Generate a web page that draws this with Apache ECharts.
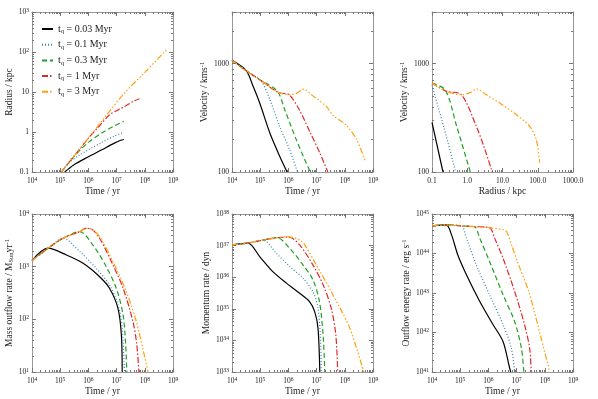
<!DOCTYPE html>
<html>
<head>
<meta charset="utf-8">
<script src="https://cdn.jsdelivr.net/npm/echarts@6/dist/echarts.min.js"></script>
<style>
html, body { margin: 0; padding: 0; background: #fff; }
#chart { width: 598px; height: 399px; }
</style>
</head>
<body>
<div id="chart"></div>
<script>
var tqNames = ['t_q = 0.03 Myr', 't_q = 0.1 Myr', 't_q = 0.3 Myr', 't_q = 1 Myr', 't_q = 3 Myr'];

// [time / yr, radius / kpc]
var radiusVsTime = [
  [[1.45e5, 0.1], [3e5, 0.15], [1e6, 0.24], [3e6, 0.36], [8e6, 0.52], [1.4e7, 0.62], [1.8e7, 0.65]],
  [[1.1e5, 0.1], [2e5, 0.17], [5e5, 0.27], [1e6, 0.36], [3e6, 0.55], [8e6, 0.78], [1.8e7, 0.98]],
  [[1.1e5, 0.1], [3e5, 0.24], [6e5, 0.4], [1e6, 0.55], [3e6, 0.95], [8e6, 1.4], [1.8e7, 1.85]],
  [[1.1e5, 0.1], [1e6, 0.7], [2.2e6, 1.3], [5.6e6, 2.7], [1e7, 3.4], [2.2e7, 4.6], [4e7, 5.9], [6.5e7, 6.8]],
  [[1.1e5, 0.1], [1e6, 0.7], [1.7e7, 8.6], [1e8, 31], [6.3e8, 119]]
];

// [time / yr, velocity / km s^-1]
var velocityVsTime = [
  [[1e4, 1073], [3.2e4, 862], [5.6e4, 618], [9.6e4, 433], [2.2e5, 229], [4.9e5, 140], [9e5, 100]],
  [[1e4, 1073], [3.2e4, 862], [1.1e5, 687], [2.2e5, 466], [4.9e5, 264], [1.1e6, 161], [2.1e6, 100]],
  [[1e4, 1073], [3.2e4, 862], [9.6e4, 711], [4e5, 560], [7.4e5, 376], [1.9e6, 199], [3.8e6, 130], [6e6, 100]],
  [[1e4, 1073], [3.2e4, 862], [9.6e4, 711], [2.8e5, 583], [5e5, 536], [1.05e6, 518], [2.5e6, 370], [6e6, 230], [1.3e7, 150], [2.5e7, 100]],
  [[1e4, 1073], [3.2e4, 862], [9.6e4, 711], [2.8e5, 583], [5e5, 536], [1.2e6, 518], [2e6, 535], [3.5e6, 583],
   [6.5e6, 518], [2.2e7, 403], [4e7, 330], [1.1e8, 272], [2.6e8, 200], [5.4e8, 125]]
];

// [radius / kpc, velocity / km s^-1]
var velocityVsRadius = [
  [[0.1, 287], [0.205, 100]],
  [[0.1, 630], [0.22, 255], [0.47, 100]],
  [[0.1, 663], [0.24, 571], [0.5, 265], [1.22, 100]],
  [[0.1, 663], [0.255, 556], [0.68, 518], [1.8, 265], [3.2, 160], [5.1, 100]],
  [[0.1, 663], [0.255, 556], [0.68, 518], [1.2, 540], [1.9, 583], [3.2, 525], [8.3, 433], [24.6, 338], [59, 264], [91, 199], [113, 122]]
];

// [time / yr, mass outflow rate / Msun yr^-1]
var massRate = [
  [[1e4, 1306], [3.7e4, 2240], [1.66e5, 1670], [6.5e5, 1160], [2.5e6, 645], [5.6e6, 390], [1.12e7, 162], [1.48e7, 50], [1.58e7, 10]],
  [[1e4, 1306], [3.7e4, 2240], [1.26e5, 3460], [4.9e5, 1950], [1.9e6, 930], [5.6e6, 450], [1.12e7, 190], [1.58e7, 68], [1.9e7, 10]],
  [[1e4, 1306], [3.7e4, 2240], [1.26e5, 3460], [4.9e5, 4630], [1.45e6, 2570], [4.3e6, 1000], [9.8e6, 385], [1.7e7, 120], [2.1e7, 33], [2.3e7, 10]],
  [[1e4, 1306], [3.7e4, 2240], [1.26e5, 3460], [4.9e5, 4630], [8e5, 5350], [1.26e6, 5200], [2.5e6, 3460], [7.4e6, 1080], [1.7e7, 390], [3.8e7, 91], [5.2e7, 33], [6.2e7, 10]],
  [[1e4, 1306], [3.7e4, 2240], [1.26e5, 3460], [4.9e5, 4630], [8e5, 5350], [1.26e6, 5200], [2.5e6, 3720], [7.4e6, 1250], [2.2e7, 337], [5e7, 91], [1.3e8, 10]]
];

// [time / yr, momentum rate / dyn]
var momentumRate = [
  [[1e4, 1.05e37], [3.7e4, 1.2e37], [9.6e4, 4.5e36], [2.8e5, 1.5e36], [8.5e5, 6.5e35], [2.5e6, 3.1e35], [5.6e6, 1.7e35], [8.5e6, 8.3e34], [1.12e7, 2.45e34], [1.3e7, 1e33]],
  [[1e4, 1.05e37], [3.7e4, 1.2e37], [1.26e5, 1.5e37], [3.7e5, 5.75e36], [1.1e6, 2.2e36], [3.3e6, 9.3e35], [7.4e6, 3.5e35], [1.12e7, 1.05e35], [1.35e7, 1.5e34], [1.48e7, 1e33]],
  [[1e4, 1.05e37], [3.7e4, 1.2e37], [1.26e5, 1.5e37], [4e5, 1.78e37], [1.1e6, 8.3e36], [3.3e6, 2.45e36], [7.4e6, 8.3e35], [1.26e7, 1.7e35], [1.7e7, 1.5e34], [1.95e7, 1e33]],
  [[1e4, 1.05e37], [3.7e4, 1.2e37], [1.26e5, 1.5e37], [4e5, 1.78e37], [1.05e6, 1.85e37], [2.5e6, 1.05e37], [7.4e6, 2.45e36], [1.7e7, 5.75e35], [3.3e7, 1.05e35], [4.8e7, 1.5e34], [5.6e7, 1e33]],
  [[1e4, 1.05e37], [3.7e4, 1.2e37], [1.26e5, 1.5e37], [4e5, 1.78e37], [1e6, 1.9e37], [2.5e6, 1.5e37], [3.8e6, 1.05e37], [9.8e6, 2.45e36], [3.8e7, 2.75e35], [1.5e8, 2.45e34], [4.7e8, 1e33]]
];

// [time / yr, outflow energy rate / erg s^-1]
var energyRate = [
  [[1e4, 5e44], [3.2e4, 5.3e44], [4.9e4, 3e44], [8.3e4, 9e43], [1.66e5, 2.9e43], [4.9e5, 6.2e42], [1.45e6, 1.6e42], [3.3e6, 5.9e41], [5.6e6, 1.3e41], [6.2e6, 1e41]],
  [[1e4, 5e44], [3.2e4, 5.3e44], [1.1e5, 5e44], [1.66e5, 2.45e44], [3.7e5, 5.2e43], [1.1e6, 9e42], [3.3e6, 1.6e42], [6.5e6, 4e41], [8.5e6, 1e41]],
  [[1e4, 5e44], [3.2e4, 5.3e44], [1.1e5, 5e44], [3.2e5, 4.8e44], [4.9e5, 2.45e44], [1.1e6, 6.3e43], [3.3e6, 9e42], [8.5e6, 1.9e42], [1.48e7, 4e41], [1.8e7, 1e41]],
  [[1e4, 5e44], [3.2e4, 5.3e44], [1.1e5, 5e44], [3.2e5, 4.8e44], [1.1e6, 4.5e44], [1.66e6, 2.45e44], [3.3e6, 7.6e43], [8.5e6, 1.1e43], [1.9e7, 1.6e42], [2.9e7, 4e41], [3.3e7, 1e41]],
  [[1e4, 5e44], [3.2e4, 5.3e44], [1.1e5, 5e44], [3.2e5, 4.8e44], [1.1e6, 4.5e44], [3.3e6, 4e44], [4.5e6, 3.5e44], [6.5e6, 1.7e44], [1.2e7, 5e43], [2.8e7, 1e43], [6.6e7, 1e42], [1.5e8, 1e41]]
];

var colors = ['#000000', '#3f7fae', '#22a022', '#e02a2a', '#ffa010'];
var dashes = ['solid', [1, 2], [5, 3], [6, 2, 1.5, 2], [6, 2, 1.5, 2, 1.5, 2, 1.5, 2]];

var FONT = 'Liberation Serif';
var GRAY = '#999';

function isPow(v) {
  var l = Math.log10(v);
  return Math.abs(l - Math.round(l)) < 1e-6;
}
function powFmt(v) {
  if (!isPow(v)) return '';
  return '10{s|' + Math.round(Math.log10(v)) + '}';
}
function radiusFmt(v) {
  if (!isPow(v)) return '';
  if (v <= 10) return String(v);
  return powFmt(v);
}
function plainFmt(v) {
  return isPow(v) ? String(Math.round(v)) : '';
}
function fixedFmt(v) {
  return isPow(v) ? v.toFixed(1) : '';
}

var panels = [
  { data: radiusVsTime, x: [1e4, 1e9], y: [0.1, 1e3], xFmt: powFmt, yFmt: radiusFmt, xName: 'Time / yr', yName: 'Radius / kpc' },
  { data: velocityVsTime, x: [1e4, 1e9], y: [100, 3000], xFmt: powFmt, yFmt: plainFmt, xName: 'Time / yr', yName: 'Velocity / kms{s|-1}' },
  { data: velocityVsRadius, x: [0.1, 1000], y: [100, 3000], xFmt: fixedFmt, yFmt: plainFmt, xName: 'Radius / kpc', yName: 'Velocity / kms{s|-1}' },
  { data: massRate, x: [1e4, 1e9], y: [10, 1e4], xFmt: powFmt, yFmt: powFmt, xName: 'Time / yr', yName: 'Mass outflow rate / M{u|Sun}yr{s|-1}' },
  { data: momentumRate, x: [1e4, 1e9], y: [1e33, 1e38], xFmt: powFmt, yFmt: powFmt, xName: 'Time / yr', yName: 'Momentum rate / dyn' },
  { data: energyRate, x: [1e4, 1e9], y: [1e41, 1e45], xFmt: powFmt, yFmt: powFmt, xName: 'Time / yr', yName: 'Outflow energy rate / erg s{s|-1}' }
];

var grids = [
  { left: 32, top: 12, width: 141, height: 160 },
  { left: 232, top: 12, width: 141, height: 160 },
  { left: 432, top: 12, width: 141, height: 160 },
  { left: 32, top: 214, width: 141, height: 158 },
  { left: 232, top: 214, width: 141, height: 158 },
  { left: 432, top: 214, width: 141, height: 158 }
];

var labelRich = {
  s: { fontSize: 5.5, fontFamily: FONT, color: '#222', verticalAlign: 'top', lineHeight: 6 }
};
var nameRich = {
  s: { fontSize: 6.5, fontFamily: FONT, color: '#222', verticalAlign: 'top', lineHeight: 7 },
  u: { fontSize: 6.5, fontFamily: FONT, color: '#222', verticalAlign: 'bottom', lineHeight: 7 }
};

function minorValues(lo, hi) {
  var out = [];
  for (var k = Math.floor(Math.log10(lo)); k <= Math.ceil(Math.log10(hi)); k++) {
    for (var m = 2; m <= 9; m++) {
      var v = m * Math.pow(10, k);
      if (v > lo * 1.0001 && v < hi * 0.9999) out.push(v);
    }
  }
  return out;
}

var xAxes = [], yAxes = [], series = [];

panels.forEach(function (p, i) {
  var common = {
    type: 'log', logBase: 10, gridIndex: i,
    axisLine: { show: true, lineStyle: { color: GRAY, width: 1 } },
    axisTick: { show: true, inside: true, length: 4, lineStyle: { color: '#777' } },
    splitLine: { show: false }
  };
  xAxes.push(Object.assign({}, common, {
    position: 'bottom', min: p.x[0], max: p.x[1],
    name: p.xName, nameLocation: 'middle', nameGap: i < 3 ? 11 : 13,
    nameTextStyle: { fontFamily: FONT, fontSize: 9.5, color: '#222' },
    axisLabel: { formatter: p.xFmt, fontFamily: FONT, fontSize: 7.5, color: '#222', margin: 5, lineHeight: 9, rich: labelRich, showMinLabel: true, showMaxLabel: true, hideOverlap: false }
  }));
  yAxes.push(Object.assign({}, common, {
    position: 'left', min: p.y[0], max: p.y[1],
    name: p.yName, nameLocation: 'middle', nameRotate: 90, nameGap: 13.5,
    nameTextStyle: { fontFamily: FONT, fontSize: 9.5, color: '#222', lineHeight: 11, rich: nameRich },
    axisLabel: { formatter: p.yFmt, fontFamily: FONT, fontSize: 7.5, color: '#222', margin: 3, lineHeight: 9, rich: labelRich, showMinLabel: true, showMaxLabel: true, hideOverlap: false }
  }));

  p.data.forEach(function (pts, j) {
    series.push({
      type: 'line',
      name: tqNames[j],
      xAxisIndex: i,
      yAxisIndex: i,
      data: pts,
      symbol: 'none',
      smooth: 0.3,
      clip: true,
      color: colors[j],
      lineStyle: { color: colors[j], width: 1.2, type: dashes[j] },
      z: 2 + j
    });
  });
});

// mirrored frame axes on top and right
panels.forEach(function (p, i) {
  var common = {
    type: 'log', logBase: 10, gridIndex: i,
    axisLine: { show: true, lineStyle: { color: GRAY, width: 1 } },
    axisTick: { show: true, inside: true, length: 4, lineStyle: { color: '#777' } },
    axisLabel: { show: false },
    splitLine: { show: false }
  };
  xAxes.push(Object.assign({}, common, { position: 'top', min: p.x[0], max: p.x[1] }));
  yAxes.push(Object.assign({}, common, { position: 'right', min: p.y[0], max: p.y[1] }));
});

// minor log ticks on all four sides
panels.forEach(function (p, i) {
  var xm = minorValues(p.x[0], p.x[1]);
  var ym = minorValues(p.y[0], p.y[1]);
  series.push({
    type: 'custom',
    xAxisIndex: i,
    yAxisIndex: i,
    silent: true,
    clip: false,
    z: 1,
    data: [[p.x[0], p.y[0]]],
    renderItem: function (params, api) {
      var cs = params.coordSys;
      var kids = [];
      var st = { stroke: '#777', lineWidth: 1 };
      var bottom = cs.y + cs.height, right = cs.x + cs.width;
      xm.forEach(function (v) {
        var px = Math.round(api.coord([v, p.y[0]])[0]) + 0.5;
        kids.push({ type: 'line', shape: { x1: px, y1: bottom, x2: px, y2: bottom - 2 }, style: st });
        kids.push({ type: 'line', shape: { x1: px, y1: cs.y, x2: px, y2: cs.y + 2 }, style: st });
      });
      ym.forEach(function (v) {
        var py = Math.round(api.coord([p.x[0], v])[1]) + 0.5;
        kids.push({ type: 'line', shape: { x1: cs.x, y1: py, x2: cs.x + 2, y2: py }, style: st });
        kids.push({ type: 'line', shape: { x1: right, y1: py, x2: right - 2, y2: py }, style: st });
      });
      return { type: 'group', children: kids };
    }
  });
});

var chart = echarts.init(document.getElementById('chart'), null, { renderer: 'canvas' });
chart.setOption({
  backgroundColor: '#fff',
  animation: false,
  grid: grids,
  xAxis: xAxes,
  yAxis: yAxes,
  legend: {
    data: tqNames,
    orient: 'vertical',
    left: 36,
    top: 18,
    itemWidth: 11,
    itemHeight: 12,
    itemGap: 3.7,
    itemStyle: { opacity: 0 },
    formatter: function (name) { return name.replace('t_q', 't{q|q}'); },
    textStyle: {
      fontFamily: FONT, fontSize: 10, color: '#222', lineHeight: 12,
      rich: { q: { fontFamily: FONT, fontSize: 6.5, color: '#222', verticalAlign: 'bottom', lineHeight: 10 } }
    }
  },
  series: series
});
</script>
</body>
</html>
